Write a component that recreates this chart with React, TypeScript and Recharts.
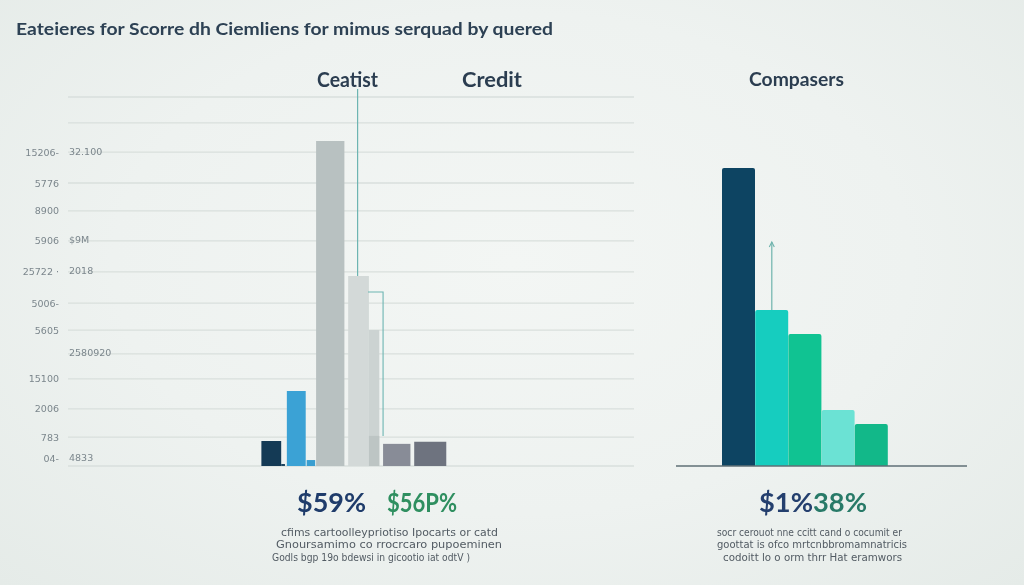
import React from "react";
import {
  ComposedChart,
  BarChart,
  Bar,
  Cell,
  Line,
  XAxis,
  YAxis,
  CartesianGrid,
  ReferenceArea,
  ReferenceLine,
} from "recharts";

// ---- shared value axis ----
const yTicks = [0, 102, 201, 307, 395, 479, 574, 684, 793, 899, 997, 1106, 1209, 1300];
const yTickMain = ["04-", "783", "2006", "15100", "", "5605", "5006-", "25722 ·", "5906", "8900", "5776", "15206-", "", ""];
const yTickSide = ["4833", "", "", "", "2580920", "", "", "2018", "$9M", "", "", "32.100", "", ""];

// ---- left panel: bins ----
const binFrom = [205, 226, 232, 253, 263, 297, 319, 319, 334, 367];
const binTo = [226, 230, 252, 262, 293, 319, 330, 330, 363, 401];
const binValue = [88, 7, 264, 21, 1145, 669, 479, 106, 78, 85];
const binColors = ["#143a55", "#1d4560", "#3ba2d5", "#3a9ed0", "#b8c1c1", "#d3d9d8", "#ccd3d2", "#bdc5c4", "#888c97", "#6e737f"];

const leaderA = [
  { x: 307, y: 1328 },
  { x: 307, y: 669 },
];
const leaderB = [
  { x: 318, y: 613 },
  { x: 334, y: 613 },
  { x: 334, y: 106 },
];

// ---- right panel ----
const compCategories = ["A", "B", "C", "D", "E"];
const compValues = [1050, 550, 465, 197, 148];
const compColors = ["#0d4462", "#16cdbf", "#10c392", "#6be2d4", "#12b889"];
const compArrow = [550, 789];

// ---- texts ----
const TITLE = "Eateieres for Scorre dh Ciemliens for mimus serquad by quered";
const HEADERS = ["Ceatist", "Credit", "Compasers"];
const BIG_LEFT = ["$59%", "$56P%"];
const BIG_RIGHT = ["$1%", "38%"];
const NOTE_LEFT = [
  "cfims cartoolleypriotiso Ipocarts or catd",
  "Gnoursamimo co rrocrcaro pupoeminen",
  "Godls bgp 19o bdewsi in gicootio iat odtV )",
];
const NOTE_RIGHT = [
  "socr cerouot nne ccitt cand o cocumit er",
  "goottat is ofco mrtcnbbromamnatricis",
  "codoitt lo o orm thrr Hat eramwors",
];

const compData = compCategories.map((c, i) => ({ name: c, value: compValues[i] }));

const renderLeftTick = (props: any) => {
  const { x, y, payload } = props;
  const i = yTicks.indexOf(payload.value);
  if (i < 0) return <g />;
  const dy = payload.value === 0 ? -4 : 3.5;
  return (
    <g>
      {yTickMain[i] ? (
        <text x={x - 9} y={y + dy} textAnchor="end" fontSize={9.5} fill="#7b868c" fontFamily="DejaVu Sans">
          {yTickMain[i]}
        </text>
      ) : null}
      {yTickSide[i] ? (
        <text x={x + 1} y={y + dy - 1} textAnchor="start" fontSize={9.5} fill="#7b868c" fontFamily="DejaVu Sans">
          {yTickSide[i]}
        </text>
      ) : null}
    </g>
  );
};

const ArrowShape = (props: any) => {
  const { x1, y1, x2, y2 } = props;
  const top = Math.min(y1, y2);
  const bottom = Math.max(y1, y2);
  return (
    <g>
      <line x1={x1} y1={bottom} x2={x2} y2={top} stroke="#6fb3ad" strokeWidth={1.2} />
      <path d={`M${x1 - 2.5},${top + 5} L${x1},${top} L${x1 + 2.5},${top + 5}`} fill="none" stroke="#6fb3ad" strokeWidth={1.1} />
    </g>
  );
};

export default function App() {
  return (
    <div
      style={{
        position: "fixed",
        left: 0,
        top: 0,
        width: 1024,
        height: 585,
        overflow: "hidden",
        background: "radial-gradient(ellipse at 50% 45%, #f3f6f4 0%, #eef2f0 55%, #e5ebe8 100%)",
      }}
    >
      {/* left panel */}
      <div style={{ position: "absolute", left: 0, top: 0 }}>
        <ComposedChart width={650} height={480} margin={{ top: 88.5, right: 16, left: 67, bottom: 14 }}>
          <CartesianGrid vertical={false} stroke="#d9dfdc" strokeWidth={1.3} horizontalValues={yTicks} />
          <XAxis type="number" dataKey="x" domain={[0, 600]} hide />
          <YAxis
            type="number"
            domain={[0, 1330]}
            ticks={yTicks}
            width={1}
            axisLine={false}
            tickLine={false}
            tickSize={0}
            tickMargin={0}
            interval={0}
            tick={renderLeftTick}
          />
          {binValue.map((v, i) => (
            <ReferenceArea
              key={i}
              x1={binFrom[i]}
              x2={binTo[i]}
              y1={0}
              y2={v}
              fill={binColors[i]}
              fillOpacity={1}
              stroke="none"
            />
          ))}
          <Line data={leaderA} dataKey="y" type="linear" stroke="#6db5b2" strokeWidth={1.2} dot={false} isAnimationActive={false} />
          <Line data={leaderB} dataKey="y" type="linear" stroke="#6db5b2" strokeWidth={1.1} dot={false} isAnimationActive={false} />
        </ComposedChart>
      </div>

      {/* right panel */}
      <div style={{ position: "absolute", left: 660, top: 0 }}>
        <BarChart
          width={320}
          height={480}
          data={compData}
          margin={{ top: 88.5, right: 13, left: 15, bottom: 13 }}
          barCategoryGap={0}
          barGap={0}
        >
          <CartesianGrid vertical={false} stroke="#dbe1de" strokeWidth={1.3} horizontalValues={yTicks} />
          <XAxis
            dataKey="name"
            padding={{ left: 46, right: 79 }}
            tick={false}
            tickLine={false}
            height={1}
            axisLine={{ stroke: "#5f6f76", strokeWidth: 1.5 }}
          />
          <YAxis type="number" domain={[0, 1330]} ticks={yTicks} width={1} axisLine={false} tickLine={false} tick={false} interval={0} />
          <Bar dataKey="value" isAnimationActive={false} radius={[2, 2, 0, 0]}>
            {compData.map((d, i) => (
              <Cell key={d.name} fill={compColors[i]} />
            ))}
          </Bar>
          <ReferenceLine
            segment={[
              { x: compCategories[1], y: compArrow[0] },
              { x: compCategories[1], y: compArrow[1] },
            ]}
            shape={<ArrowShape />}
          />
        </BarChart>
      </div>

      {/* texts */}
      <svg width={1024} height={585} style={{ position: "absolute", left: 0, top: 0, pointerEvents: "none" }}>
        <text x={16} y={35} fontFamily="Lato" fontWeight={700} fontSize={17.5} fill="#2d4154" textLength={537} lengthAdjust="spacingAndGlyphs">
          {TITLE}
        </text>
        <text x={317} y={87} fontFamily="Lato" fontWeight={700} fontSize={20} fill="#2b3d50" textLength={61} lengthAdjust="spacingAndGlyphs">
          {HEADERS[0]}
        </text>
        <text x={462} y={87} fontFamily="Lato" fontWeight={700} fontSize={20} fill="#2b3d50" textLength={60} lengthAdjust="spacingAndGlyphs">
          {HEADERS[1]}
        </text>
        <text x={749} y={86} fontFamily="Lato" fontWeight={700} fontSize={19} fill="#2b3d50" textLength={95} lengthAdjust="spacingAndGlyphs">
          {HEADERS[2]}
        </text>

        <text x={297} y={512} fontFamily="Lato" fontWeight={700} fontSize={27} fill="#1f3c6b" textLength={69} lengthAdjust="spacingAndGlyphs">
          {BIG_LEFT[0]}
        </text>
        <text x={387} y={512} fontFamily="Lato" fontWeight={700} fontSize={27} fill="#2f8f60" textLength={70} lengthAdjust="spacingAndGlyphs">
          {BIG_LEFT[1]}
        </text>
        <text x={759} y={512} fontFamily="Lato" fontWeight={700} fontSize={27} textLength={108} lengthAdjust="spacingAndGlyphs">
          <tspan fill="#243f6e">{BIG_RIGHT[0]}</tspan>
          <tspan fill="#287a68">{BIG_RIGHT[1]}</tspan>
        </text>

        {NOTE_LEFT.map((t, i) => (
          <text
            key={"l" + i}
            x={[281, 276, 272][i]}
            y={[536, 548, 561][i]}
            fontFamily="DejaVu Sans"
            fontSize={10.5}
            fill="#525b63"
            textLength={[217, 226, 198][i]}
            lengthAdjust="spacingAndGlyphs"
          >
            {t}
          </text>
        ))}
        {NOTE_RIGHT.map((t, i) => (
          <text
            key={"r" + i}
            x={[717, 717, 723][i]}
            y={[536, 548, 561][i]}
            fontFamily="DejaVu Sans"
            fontSize={10.5}
            fill="#525b63"
            textLength={[185, 190, 179][i]}
            lengthAdjust="spacingAndGlyphs"
          >
            {t}
          </text>
        ))}
      </svg>
    </div>
  );
}
